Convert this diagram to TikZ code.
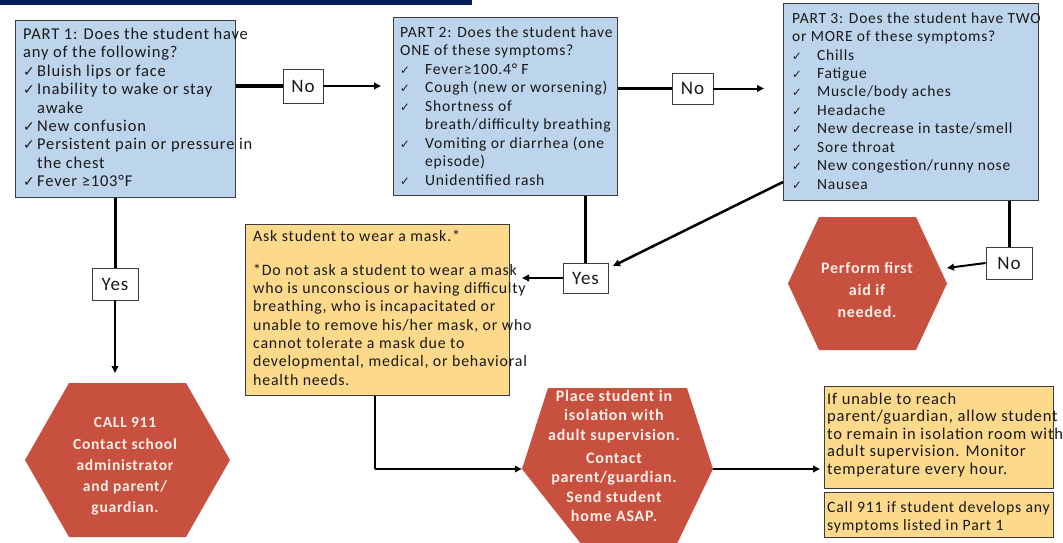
\documentclass[tikz,border=0pt]{standalone}
\usepackage{fontspec}
\setmainfont{Carlito}[LetterSpace=5]
\newfontfamily\symf{DejaVu Sans}[Scale=0.75]
\newfontfamily\symg{DejaVu Sans}[Scale=0.85]
\usetikzlibrary{arrows.meta,calc}
\definecolor{boxblue}{RGB}{189,213,236}
\definecolor{boxyellow}{RGB}{253,217,140}
\definecolor{hexred}{RGB}{199,80,62}
\definecolor{hexwhite}{RGB}{252,238,232}
\definecolor{boxline}{RGB}{60,60,60}
\definecolor{textdark}{RGB}{25,25,25}
\definecolor{navy}{RGB}{8,30,92}
\newcommand{\chkA}{\makebox[14pt][l]{\symg ✓}}
\newcommand{\chkB}{\makebox[25pt][l]{\symf ✓}}
\tikzset{
  box/.style={draw=boxline, line width=1pt, inner sep=0pt},
  bluebox/.style={box, fill=boxblue},
  yellowbox/.style={box, fill=boxyellow},
  lbl/.style={draw=boxline, fill=white, line width=0.8pt, inner sep=0pt, text=textdark,
    font=\fontsize{19}{21}\selectfont},
  txt/.style={anchor=north west, inner sep=0pt, align=left, text=textdark},
  hextxt/.style={align=center, inner sep=0pt, text=hexwhite},
  hexa/.style n args={4}{inner sep=0pt, path picture={
    \fill[hexred] ([xshift=#1]path picture bounding box.north west)
      -- ([xshift=-#2]path picture bounding box.north east)
      -- (path picture bounding box.east)
      -- ([xshift=-#4]path picture bounding box.south east)
      -- ([xshift=#3]path picture bounding box.south west)
      -- (path picture bounding box.west) -- cycle;}},
  thickln/.style={line width=3pt},
  conn/.style={line width=2pt, -{Triangle[length=7pt,width=6.5pt]}},
}
\begin{document}
\begin{tikzpicture}[x=1pt,y=-1pt]
\useasboundingbox (0,0) rectangle (1063,543);
\clip (0,0) rectangle (1063,543);
\fill[white] (0,0) rectangle (1063,543);
\fill[navy] (0,0) rectangle (472,5);

% boxes
\node[bluebox, minimum width=220pt, minimum height=176pt] (p1) at (125,109) {};
\node[bluebox, minimum width=224pt, minimum height=177pt] (p2) at (505,106.5) {};
\node[bluebox, minimum width=255pt, minimum height=196pt] (p3) at (910.5,102) {};
\node[yellowbox, minimum width=264pt, minimum height=171pt] (mask) at (377,309.5) {};
\node[yellowbox, minimum width=229pt, minimum height=102pt] (r1) at (938.5,437) {};
\node[yellowbox, minimum width=229pt, minimum height=45pt] (r2) at (938.5,514.5) {};

% box texts
\node[txt, font=\fontsize{16.5}{18.4}\selectfont] (p1t) at (23,27.8) {PART 1: Does the student have\\
any of the following?\\
\chkA Bluish lips or face\\
\chkA Inability to wake or stay\\
\hspace*{14pt}awake\\
\chkA New confusion\\
\chkA Persistent pain or pressure in\\
\hspace*{14pt}the chest\\
\chkA Fever ≥103°F};

\node[txt, font=\fontsize{15.6}{18.5}\selectfont] (p2t) at (400,26.2) {PART 2: Does the student have\\
ONE of these symptoms?\\
\chkB Fever≥100.4° F\\
\chkB Cough (new or worsening)\\
\chkB Shortness of\\
\hspace*{25pt}breath/difficulty breathing\\
\chkB Vomiting or diarrhea (one\\
\hspace*{25pt}episode)\\
\chkB Unidentified rash};

\node[txt, font=\fontsize{15.5}{18.44}\selectfont] (p3t) at (792,12.2) {PART 3: Does the student have TWO\\
or MORE of these symptoms?\\
\chkB Chills\\
\chkB Fatigue\\
\chkB Muscle/body aches\\
\chkB Headache\\
\chkB New decrease in taste/smell\\
\chkB Sore throat\\
\chkB New congestion/runny nose\\
\chkB Nausea};

\node[txt, font=\fontsize{15.9}{18.3}\selectfont] (maskt) at (253,230) {Ask student to wear a mask.*\\[15.6pt]
{}*Do not ask a student to wear a mask\\
who is unconscious or having difficulty\\
breathing, who is incapacitated or\\
unable to remove his/her mask, or who\\
cannot tolerate a mask due to\\
developmental, medical, or behavioral\\
health needs.};

\node[txt, font=\fontsize{16.5}{17.5}\selectfont] (r1t) at (827,392.8) {If unable to reach\\
parent/guardian, allow student\\
to remain in isolation room with\\
adult supervision. Monitor\\
temperature every hour.};

\node[txt, font=\fontsize{15.75}{18}\selectfont] (r2t) at (827,501.1) {Call 911 if student develops any\\
symptoms listed in Part 1};

% hexagons
\node[hexa={44pt}{44pt}{44pt}{44pt}, minimum width=205pt, minimum height=154pt] (h1) at (127.5,460) {};
\node[hexa={31pt}{31pt}{31pt}{31pt}, minimum width=159pt, minimum height=133pt] (h2) at (867.5,283.5) {};
\node[hexa={26pt}{26pt}{64pt}{39pt}, minimum width=191pt, minimum height=162pt] (h3) at (617.5,469) {};

\node[hextxt, font=\bfseries\fontsize{15.5}{21}\selectfont] (h1t) at (125,466) {CALL 911\\[1pt]Contact school\\administrator\\and parent/\\guardian.};
\node[hextxt, font=\bfseries\fontsize{16}{22}\selectfont] (h2t) at (867,290) {Perform first\\aid if\\needed.};
\node[hextxt, font=\bfseries\fontsize{16}{19.6}\selectfont] (h3t) at (614,456) {Place student in\\isolation with\\adult supervision.\\[3pt]Contact\\parent/guardian.\\Send student\\home ASAP.};

% labels
\node[lbl, minimum width=40pt, minimum height=34pt] (no1) at (303,86) {No};
\node[lbl, minimum width=41pt, minimum height=31pt] (no2) at (692.5,88.5) {No};
\node[lbl, minimum width=46pt, minimum height=32pt] (yesl) at (115,284) {Yes};
\node[lbl, minimum width=45pt, minimum height=30pt] (yesm) at (585.5,278) {Yes};
\node[lbl, minimum width=46pt, minimum height=32pt] (no3) at (1009,263) {No};

% free ends
\coordinate (e1) at (381,86);
\coordinate (e2) at (764,88.5);
\coordinate (e3) at (115,373);
\coordinate (e4) at (522,278);
\coordinate (s5) at (783,182);
\coordinate (e5) at (613,266);
\coordinate (e6) at (947,268);
\coordinate (e7) at (820,469);
\coordinate (m1) at (375,469);

% connectors
\draw[thickln] (no1.west -| p1.east) -- (no1.west);
\draw[conn] (no1.east) -- (e1);
\draw[thickln] (no2.west -| p2.east) -- (no2.west);
\draw[conn] (no2.east) -- (e2);
\draw[thickln] (yesl.north |- p1.south) -- (yesl.north);
\draw[conn] (yesl.south) -- (e3);
\draw[thickln] (yesm.north |- p2.south) -- (yesm.north);
\draw[conn] (yesm.west) -- (e4);
\draw[conn, line width=2.5pt] (s5) -- (e5);
\draw[thickln] (no3.north |- p3.south) -- (no3.north);
\draw[conn] (no3.west) -- (e6);
\draw[line width=2pt] (m1 |- mask.south) -- (m1);
\draw[conn] (m1) -- (h3.west);
\draw[conn] (h3.east) -- (e7);
\end{tikzpicture}
\end{document}
